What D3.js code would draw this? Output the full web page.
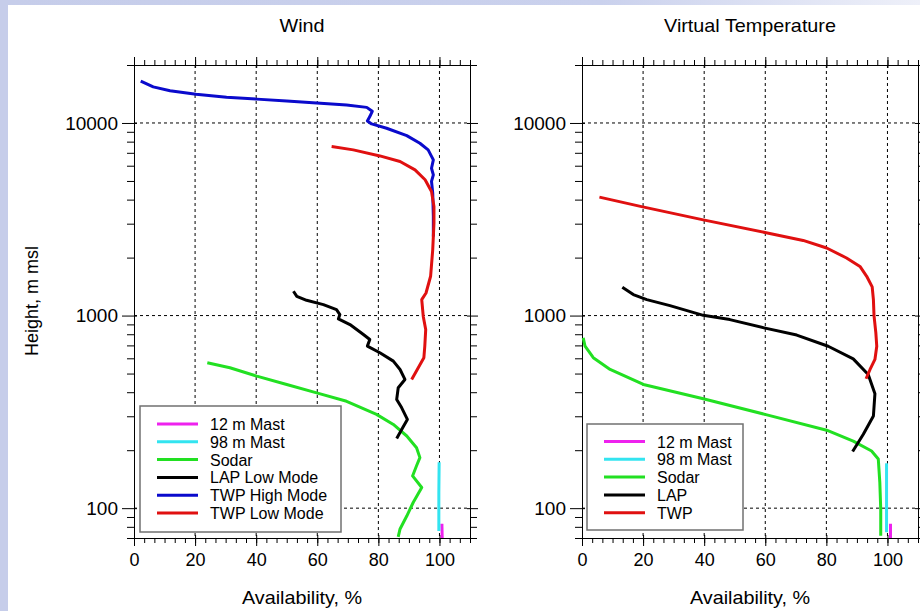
<!DOCTYPE html>
<html>
<head>
<meta charset="utf-8">
<script src="https://cdn.jsdelivr.net/npm/d3@7"></script>
<style>
body { margin: 0; }
svg text { font-family: Arial, "Liberation Sans", sans-serif; fill: #000; }
</style>
</head>
<body>
<svg id="chart" width="920" height="611"></svg>
<script>
// availability (%) against height (m msl)
var xTicks = [0, 20, 40, 60, 80, 100];
var yTicks = [100, 1000, 10000];
var xDomain = [0, 110];
var yDomain = [70, 20000];

var windNames = ["12 m Mast", "98 m Mast", "Sodar", "LAP Low Mode", "TWP High Mode", "TWP Low Mode"];
var tempNames = ["12 m Mast", "98 m Mast", "Sodar", "LAP", "TWP"];

var windMast12 = [[100.8, 83], [100.9, 70]];
var windMast98 = [[99.9, 173], [99.8, 120], [99.8, 76]];
var windSodar = [[24.0, 569], [31.4, 536], [40.2, 485], [50, 439], [59.8, 397], [69.6, 359], [79.4, 307],
  [84.9, 272], [89.3, 237], [92.5, 206], [93.6, 183], [92.5, 166], [91.2, 147], [94.2, 128],
  [91.4, 107], [89.3, 91], [87.1, 78], [86.5, 71]];
var windLap = [[52.2, 1337], [53.3, 1259], [56.5, 1200], [62, 1140], [66.3, 1074], [67.4, 1012],
  [66.9, 961], [70.7, 898], [75.1, 797], [77.2, 751], [76.4, 694], [80.5, 641], [84.9, 580],
  [87.1, 525], [88.7, 466], [86.5, 422], [86.0, 367], [87.6, 333], [89.5, 289], [88.0, 262], [86.0, 230]];
var windTwpHigh = [[2.2, 16500], [6.3, 15400], [11.8, 14700], [20.3, 14100], [30.3, 13600], [40.2, 13300],
  [50, 13000], [59.8, 12700], [69.6, 12400], [76.2, 12050], [78, 11500], [77.2, 10800], [76.4, 10250],
  [77.8, 9890], [82.7, 9390], [89.3, 8600], [93.6, 7850], [96.3, 7250], [98, 6430], [97.4, 5820],
  [98, 5380], [97.4, 4970], [97.8, 4320], [98, 3270], [98, 2575]];
var windTwpLow = [[64.7, 7540], [71.8, 7250], [80.5, 6745], [87.1, 6310], [92, 5710], [95.3, 5070],
  [97.4, 4410], [98.2, 3680], [98.2, 3020], [97.8, 2200], [97.1, 1600], [95.6, 1310], [94.2, 1210],
  [94.7, 990], [95.5, 846], [95.2, 693], [94.9, 604], [90.9, 466]];

var tempMast12 = [[101, 83], [101, 70]];
var tempMast98 = [[99.7, 171], [99.7, 120], [99.7, 75]];
var tempSodar = [[0.4, 766], [1.0, 693], [3.7, 604], [9.2, 525], [20.1, 439], [39.7, 370], [59.9, 307],
  [80.1, 254], [88.8, 223], [94.8, 198], [97.0, 180], [97.5, 136], [97.8, 99], [97.8, 72]];
var tempLap = [[13.2, 1402], [16.8, 1285], [21.2, 1210], [28.8, 1126], [39.7, 1003], [48.4, 953],
  [59.6, 863], [70.3, 792], [80.6, 693], [88.8, 596], [93.7, 494], [95.9, 393], [95.4, 301],
  [92.1, 242], [88.6, 197]];
var tempTwp = [[5.7, 4120], [19.5, 3680], [39.7, 3140], [59.9, 2700], [72.4, 2456], [80.1, 2243],
  [86.6, 1991], [91.0, 1800], [93.2, 1599], [95.0, 1409], [95.4, 1210], [95.6, 1000], [96.2, 813],
  [96.5, 693], [95.9, 592], [94.3, 525], [93.0, 470]];

var colours = {mast12: "#ee22ee", mast98: "#33e4f0", sodar: "#22e022", lap: "#000000", high: "#0a0acc", low: "#e01010"};

var svg = d3.select("#chart");
var plotTop = 65, plotBottom = 538;

// lavender frame on the left / top
var defs = svg.append("defs");
var grad = defs.append("linearGradient").attr("id", "topband");
grad.append("stop").attr("offset", "0").attr("stop-color", "#c6cdea");
grad.append("stop").attr("offset", "0.65").attr("stop-color", "#cad1ed");
grad.append("stop").attr("offset", "1").attr("stop-color", "#eef0f9");
svg.append("rect").attr("width", 920).attr("height", 611).attr("fill", "#c6cdea");
svg.append("rect").attr("x", 8).attr("width", 912).attr("height", 5).attr("fill", "url(#topband)");
svg.append("rect").attr("x", 8).attr("y", 5).attr("width", 912).attr("height", 606).attr("fill", "#fff");

// the original text is a bit wider than the font, stretch it sideways
function wideText(sel, x, y, size, label, stretch) {
  return sel.append("text")
    .attr("transform", "translate(" + x + "," + y + ") scale(" + stretch + ",1)")
    .attr("text-anchor", "middle").style("font-size", size + "px").text(label);
}

// minor tick positions
var xMinor = d3.range(0, 110.001, 10 / 3);
var yMinor = [];
[10, 100, 1000, 10000].forEach(function(d) {
  for (var k = 2; k <= 9; k++) {
    var v = d * k;
    if (v >= yDomain[0] && v <= yDomain[1]) yMinor.push(v);
  }
});

function drawPanel(x0, x1, title, series, names, legend) {
  var x = d3.scaleLinear().domain(xDomain).range([x0, x1]);
  var y = d3.scaleLog().domain(yDomain).range([plotBottom, plotTop]);
  var g = svg.append("g");

  // dashed grid
  g.selectAll(".vgrid").data(xTicks.slice(1)).enter().append("line")
    .attr("x1", x).attr("x2", x).attr("y1", plotTop).attr("y2", plotBottom)
    .attr("stroke", "#000").attr("stroke-width", 1).attr("stroke-dasharray", "3,3");
  g.selectAll(".hgrid").data(yTicks).enter().append("line")
    .attr("x1", x0).attr("x2", x1).attr("y1", y).attr("y2", y)
    .attr("stroke", "#000").attr("stroke-width", 1).attr("stroke-dasharray", "3,3");

  // axes: minor and major ticks on all four sides
  function addAxis(axis, tr, cross, attr) {
    var a = g.append("g").attr("transform", tr).call(axis);
    a.select(".domain").attr("stroke", "#000");
    if (cross) a.selectAll(".tick line").attr(attr, cross);
    return a;
  }
  var bl = "translate(0," + plotBottom + ")", tl = "translate(0," + plotTop + ")";
  var ll = "translate(" + x0 + ",0)", rl = "translate(" + x1 + ",0)";

  addAxis(d3.axisBottom(x).tickValues(xMinor).tickSize(5).tickSizeOuter(0).tickFormat(""), bl);
  addAxis(d3.axisTop(x).tickValues(xMinor).tickSize(5).tickSizeOuter(0).tickFormat(""), tl);
  addAxis(d3.axisLeft(y).tickValues(yMinor).tickSize(7).tickSizeOuter(0).tickFormat(""), ll);
  addAxis(d3.axisRight(y).tickValues(yMinor).tickSize(7).tickSizeOuter(0).tickFormat(""), rl);

  var xb = addAxis(d3.axisBottom(x).tickValues(xTicks).tickSize(8).tickPadding(7).tickSizeOuter(0)
    .tickFormat(d3.format("d")), bl, -3, "y1");
  addAxis(d3.axisTop(x).tickValues(xTicks).tickSize(8).tickSizeOuter(0).tickFormat(""), tl, 3, "y1");
  var yl = addAxis(d3.axisLeft(y).tickValues(yTicks).tickSize(12).tickPadding(4).tickSizeOuter(0)
    .tickFormat(d3.format("d")), ll, 3, "x1");
  addAxis(d3.axisRight(y).tickValues(yTicks).tickSize(8).tickSizeOuter(0).tickFormat(""), rl, -3, "x1");

  xb.selectAll(".tick text").style("font-size", "18px").attr("fill", "#000");
  yl.selectAll(".tick text").style("font-size", "19px").attr("fill", "#000");
  g.selectAll(".tick line").attr("stroke", "#000");

  // data lines
  var line = d3.line().x(function(d) { return x(d[0]); }).y(function(d) { return y(d[1]); });
  series.forEach(function(s) {
    g.append("path").datum(s.data).attr("d", line)
      .attr("fill", "none").attr("stroke", s.colour).attr("stroke-width", 3)
      .attr("stroke-linejoin", "round");
  });

  // legend
  var lg = g.append("g");
  lg.append("rect").attr("x", legend.x).attr("y", legend.y).attr("width", legend.w).attr("height", legend.h)
    .attr("fill", "#fff").attr("stroke", "#707070").attr("stroke-width", 1.5);
  names.forEach(function(n, i) {
    var ry = legend.y + legend.first + i * 17.8;
    lg.append("line").attr("x1", legend.x + 17).attr("x2", legend.x + 58).attr("y1", ry).attr("y2", ry)
      .attr("stroke", series[i].colour).attr("stroke-width", 3);
    lg.append("text").attr("x", legend.x + 70).attr("y", ry + 6).style("font-size", "16px").text(n);
  });

  // titles
  wideText(g, (x0 + x1) / 2, 32, 18, title, 1.1);
  wideText(g, (x0 + x1) / 2, 604, 18, "Availability, %", 1.1);
}

drawPanel(134, 470, "Wind", [
  {data: windMast12, colour: colours.mast12},
  {data: windMast98, colour: colours.mast98},
  {data: windSodar, colour: colours.sodar},
  {data: windLap, colour: colours.lap},
  {data: windTwpHigh, colour: colours.high},
  {data: windTwpLow, colour: colours.low}
], windNames, {x: 140, y: 406, w: 201, h: 126, first: 18});

drawPanel(582, 918, "Virtual Temperature", [
  {data: tempMast12, colour: colours.mast12},
  {data: tempMast98, colour: colours.mast98},
  {data: tempSodar, colour: colours.sodar},
  {data: tempLap, colour: colours.lap},
  {data: tempTwp, colour: colours.low}
], tempNames, {x: 587, y: 424, w: 156, h: 106, first: 17.5});

svg.append("text").attr("transform", "translate(38,301) rotate(-90)").attr("text-anchor", "middle")
  .style("font-size", "18px").text("Height, m msl");
</script>
</body>
</html>
